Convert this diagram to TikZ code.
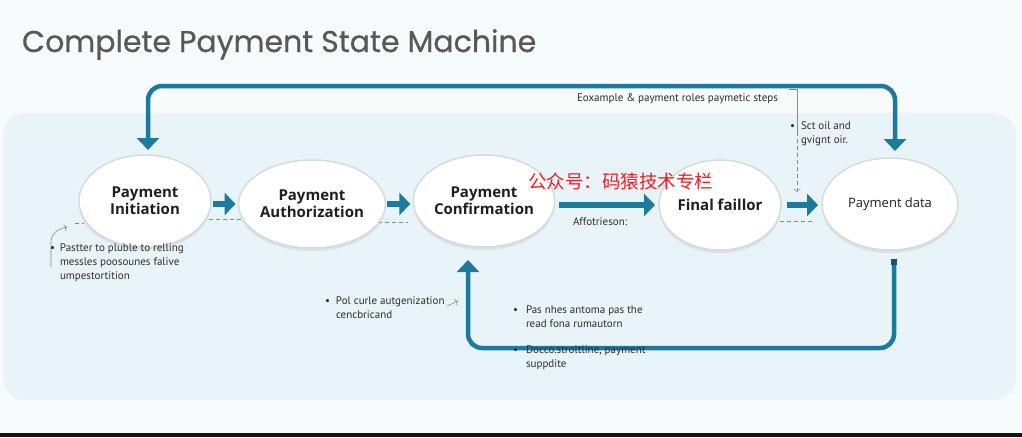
\documentclass[tikz,border=0pt]{standalone}
\usepackage{fontspec}
\setmainfont{Open Sans}
\newfontfamily\titlefont[FakeBold=0.6]{Poppins}
\newfontfamily\notefont{PT Sans}
\newfontfamily\cjkfont{Noto Sans CJK SC}
\usetikzlibrary{arrows.meta,shapes.geometric,shadows}
\definecolor{flowteal}{RGB}{28,122,158}
\definecolor{panelblue}{RGB}{233,244,249}
\definecolor{pagewhite}{RGB}{248,251,252}
\definecolor{titlegray}{RGB}{88,88,88}
\definecolor{stateedge}{RGB}{214,219,223}
\definecolor{notegray}{RGB}{45,45,45}
\definecolor{guidegray}{RGB}{130,140,146}
\definecolor{markred}{RGB}{236,32,36}

\begin{document}
\begin{tikzpicture}[x=1pt,y=-1pt,
  state/.style={ellipse,inner sep=0pt,outer sep=0pt,fill=white,draw=stateedge,line width=1.5pt,
    drop shadow={opacity=.16,shadow xshift=0pt,shadow yshift=-3pt},
    align=center,text=black!88,font=\bfseries\fontsize{15}{17}\selectfont},
  flow/.style={draw=flowteal,line width=6pt,-{Triangle[length=11pt,width=22pt]}},
  loopline/.style={draw=flowteal,line width=4.5pt,rounded corners=14pt},
  looptip/.tip={Triangle[length=12pt,width=22pt]},
  guide/.style={draw=guidegray,line width=.6pt,dash pattern=on 4pt off 3pt},
  pointer/.style={draw=guidegray,line width=.6pt,-{To[length=3pt]}},
  note/.style={inner sep=0pt,outer sep=0pt,anchor=base west,align=left,text=notegray,
    font=\notefont\fontsize{11}{14}\selectfont}]
\path[use as bounding box] (0,0) rectangle (1022,437);
\fill[pagewhite] (0,0) rectangle (1022,437);
\fill[panelblue,rounded corners=22pt] (3,113) rectangle (1016,400);
\fill[black!92] (0,433) rectangle (1022,437);
\node[inner sep=0pt,outer sep=0pt,anchor=base west,text=titlegray,font=\titlefont\fontsize{30}{33}\selectfont] (title) at (22,52) {Complete Payment State Machine};

\draw[guide] (75,223) -- (84,223);
\draw[guide] (209,219) -- (249,219);
\draw[guide] (378,222) -- (408,222);
\draw[guide] (780,221) -- (813,221);

\node[state,minimum width=132pt,minimum height=92pt] (init) at (145,201) {Payment\\Initiation};
\node[state,minimum width=136pt,minimum height=88pt] (auth) at (312,204) {Payment\\Authorization};
\node[state,minimum width=132pt,minimum height=92pt] (conf) at (484,201) {Payment\\Confirmation};
\node[state,minimum width=122pt,minimum height=90pt] (fail) at (720,205) {Final faillor};
\node[state,minimum width=136pt,minimum height=92pt,font=\fontsize{13}{16}\selectfont] (data) at (890,204) {Payment data};

\draw[flow,shorten <=2pt,shorten >=3pt] (init.east |- auth.west) -- (auth.west);
\draw[flow,shorten <=2pt,shorten >=3pt] (auth.east) -- (conf.west |- auth.east);
\draw[flow,shorten <=4pt,shorten >=4pt] (conf.east |- fail.west) -- (fail.west);
\draw[flow,shorten <=6pt,shorten >=4pt] (fail.east) -- (data.west |- fail.east);

\coordinate (topbend) at (520,86);
\coordinate (botbend) at (680,348);
\draw[loopline,looptip-looptip,shorten <=5pt,shorten >=7pt] ([xshift=3pt]init.north) |- (topbend) -| ([xshift=5pt]data.north);
\draw[loopline,-looptip,shorten <=14pt,shorten >=13pt] ([xshift=4pt]data.south) |- (botbend) -| ([xshift=-16pt]conf.south);
\fill[flowteal!70!black] (891,259) rectangle (897,265);

\node[inner sep=0pt,outer sep=0pt,anchor=base west,text=markred,font=\cjkfont\fontsize{18.5}{20}\selectfont] (mark) at (528,188) {公众号：码猿技术专栏};

\node[note] (stepsnote) at (577,101) {Eoxample \& payment roles paymetic steps};
\coordinate (brackleft) at (789,89);
\coordinate (brackknee) at (797,89);
\coordinate (brackmid) at (797,132);
\coordinate (bracktip) at (797,192);
\draw[guidegray,line width=.6pt] (brackleft) -- (brackknee) -- (brackmid);
\draw[guide,-{To[length=3pt]}] (brackmid) -- (bracktip);
\node[note] (oilnote) at (801,143) {\llap{•\hspace{6pt}}Sct oil and\\gvignt oir.};
\node[note] (afternote) at (573,225) {Affotrieson:};

\coordinate (leftfoot) at (51,267);
\coordinate (leftknee) at (51,242);
\coordinate (lefttip) at (67,227);
\draw[pointer] (leftfoot) -- (leftknee) .. controls (51,233) and (58,229) .. (lefttip);
\node[note] (leftnote) at (60,279) {\llap{•\hspace{5pt}}Pastter to pluble to relling\\messles poosounes falive\\umpestortition};

\coordinate (midfoot) at (447,306);
\coordinate (midtip) at (458,301);
\draw[pointer] (midfoot) -- (midtip);
\node[note] (midnote) at (336,318) {\llap{•\hspace{6pt}}Pol curle autgenization\\cencbricand};

\node[note] (loopnote) at (526,327) {\llap{•\hspace{8pt}}Pas nhes antoma pas the\\read fona rumautorn};
\node[note] (updatenote) at (526,367) {\llap{•\hspace{8pt}}Docco.stroltline, payment\\suppdite};
\end{tikzpicture}
\end{document}
